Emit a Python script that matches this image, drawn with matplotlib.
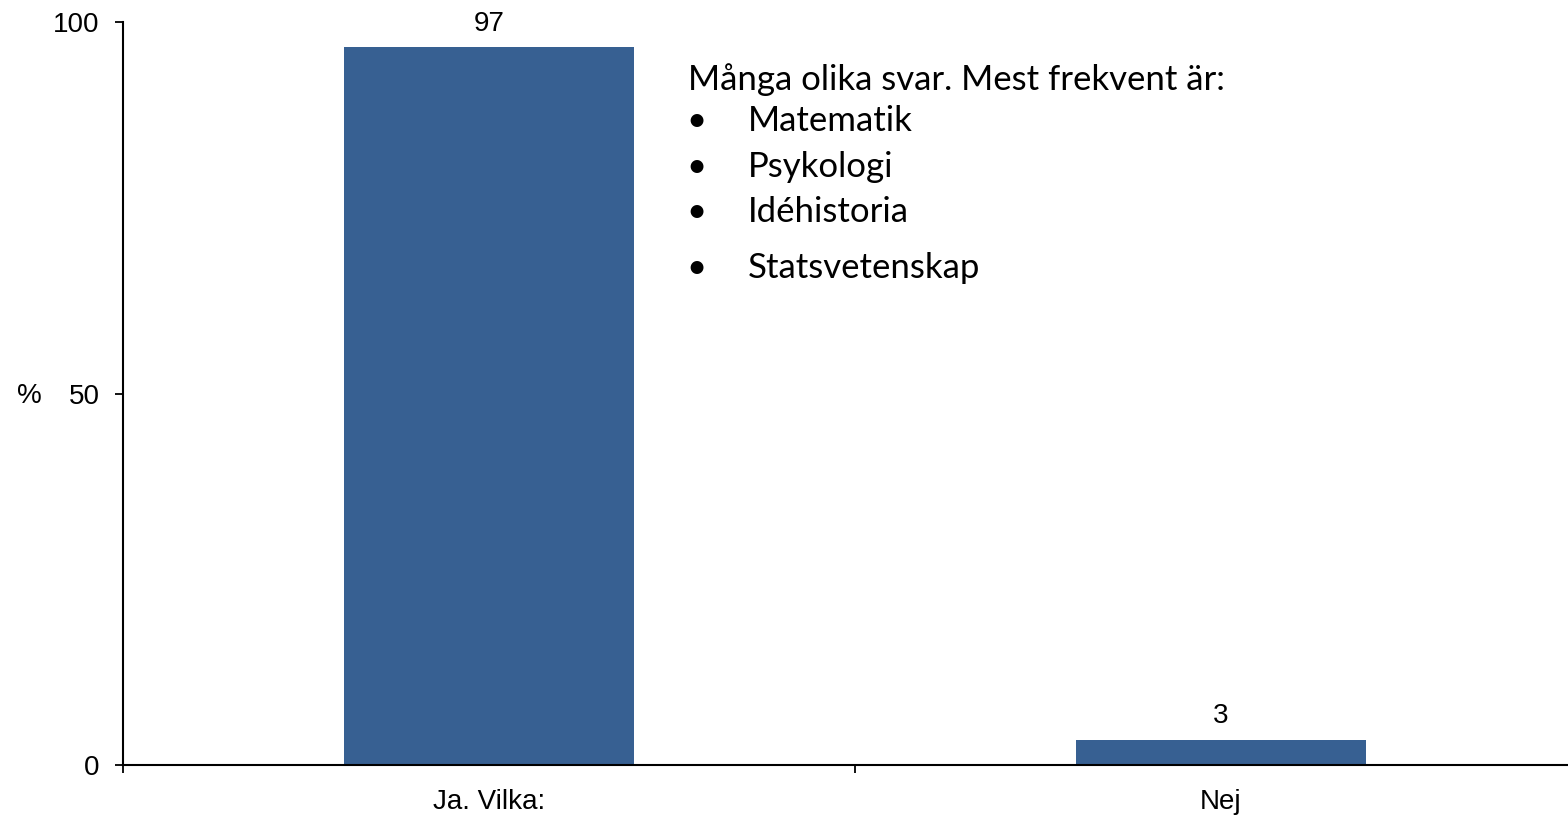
import matplotlib
matplotlib.use("Agg")
import matplotlib.pyplot as plt

categories = ["Ja. Vilka:", "Nej"]
values = [96.6, 3.4]
value_labels = ["97", "3"]
yticks = [0, 50, 100]
note_title = "Många olika svar. Mest frekvent är:"
note_items = ["Matematik", "Psykologi", "Idéhistoria", "Statsvetenskap"]

W, H = 1568, 818
fig = plt.figure(figsize=(W / 100, H / 100), dpi=100)
ax = fig.add_axes([123 / W, 1 - 765 / H, 2 * 732 / W, (765 - 22) / H])

bar_color = "#376092"
xpos = list(range(len(categories)))
ax.bar(xpos, values, width=0.396, color=bar_color, zorder=2)

tick_font = dict(family=["Liberation Sans", "DejaVu Sans"], size=20)
for x, v, lab in zip(xpos, values, value_labels):
    ax.annotate(lab, (x, v), xytext=(0, 12), textcoords="offset points",
                ha="center", va="baseline", **tick_font)

ax.set_xlim(-0.5, 1.5)
ax.set_ylim(0, 100)
ax.set_yticks(yticks)
ax.set_yticklabels([str(t) for t in yticks], **tick_font)
ax.set_xticks(xpos)
ax.set_xticklabels(categories, **tick_font)
ax.tick_params(axis="x", which="major", length=0, pad=17)
ax.set_xticks([-0.5, 0.5, 1.5], minor=True)
ax.tick_params(axis="x", which="minor", length=6, width=1.3, direction="out")
ax.tick_params(axis="y", length=6, width=1.3, direction="out", pad=11)

for s in ["top", "right"]:
    ax.spines[s].set_visible(False)
for s in ["left", "bottom"]:
    ax.spines[s].set_linewidth(1.5)

fig.text(17 / W, 1 - 396 / H, "%", ha="left", va="center", **tick_font)

note_font = dict(family=["Lato", "DejaVu Sans"], size=25)
fig.text(688 / W, 1 - 90 / H, note_title, ha="left", va="baseline", **note_font)
item_y = [131, 177, 222, 278]
for yy, item in zip(item_y, note_items):
    fig.text(686 / W, 1 - yy / H, "•", ha="left", va="baseline", **note_font)
    fig.text(748 / W, 1 - yy / H, item, ha="left", va="baseline", **note_font)

fig.savefig("out.png", dpi=100)
